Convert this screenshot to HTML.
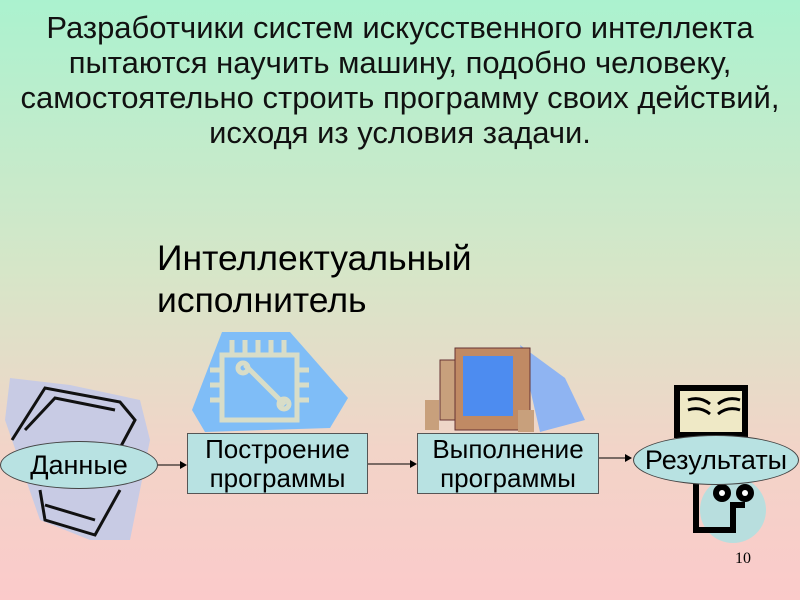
<!DOCTYPE html>
<html><head><meta charset="utf-8"><style>
body{margin:0;width:800px;height:600px;overflow:hidden;background:linear-gradient(#abf2cf 0%,#d6e6c8 45%,#f2d4c8 75%,#fbcaca 100%);font-family:"Liberation Sans",sans-serif;position:relative}
.t{position:absolute;left:0;width:800px;text-align:center;font-size:31px;line-height:35px;top:10px;color:#111;white-space:nowrap}
.h{position:absolute;left:157px;top:237px;font-size:35.5px;line-height:42px;color:#000}
.box{position:absolute;top:433px;height:61px;background:#b8e2e2;border:1px solid #555;font-size:26px;text-align:center;line-height:29px;box-sizing:border-box;padding-top:1px;white-space:nowrap}
.el{position:absolute;background:#b8e2e2;border:1px solid #444;border-radius:50%;font-size:27px;text-align:center;box-sizing:border-box;white-space:nowrap}
</style></head><body>
<div class="t">Разработчики систем искусственного интеллекта<br>пытаются научить машину, подобно человеку,<br>самостоятельно строить программу своих действий,<br>исходя из условия задачи.</div>
<div class="h">Интеллектуальный<br>исполнитель</div>
<svg width="800" height="600" style="position:absolute;left:0;top:0">
<path d="M222,332 L290,332 L348,398 L330,428 L205,432 L192,410 Z" fill="#7fbdf7"/>
<g stroke="#d8ddc8" stroke-width="5" fill="none">
<rect x="222" y="355" width="75" height="65"/>
<path d="M232,340v15M245,340v15M258,340v15M271,340v15M284,340v15M210,370h12M210,385h12M210,400h12M297,370h12M297,385h12M297,400h12M245,365l40,40"/>
<circle cx="243" cy="368" r="5"/><circle cx="284" cy="404" r="5"/>
</g>
<path d="M10,378 L70,385 L140,400 L150,440 L130,540 L90,540 L40,520 L5,420 Z" fill="#c8cbe4"/>
<g stroke="#111" stroke-width="3" fill="none">
<path d="M12,440 L45,388 L120,402 L135,420 L120,448"/><path d="M25,430 L55,398 L115,410"/>
<path d="M40,490 L45,520 L95,535 L120,490"/><path d="M45,505 L95,520"/>
</g>
<path d="M520,345 L565,378 L585,420 L540,432 Z" fill="#8fb4f2"/>
<rect x="440" y="360" width="20" height="60" fill="#c8a07c" stroke="#633" />
<rect x="455" y="348" width="75" height="82" fill="#c08a64" stroke="#633"/>
<rect x="463" y="356" width="50" height="60" fill="#4d8cf0"/>
<rect x="425" y="400" width="14" height="30" fill="#c8a07c"/>
<rect x="518" y="410" width="16" height="22" fill="#c8a07c"/>
<circle cx="733" cy="510" r="33" fill="#b8dede"/>
<path d="M677,388 L745,388 L745,435 L677,435 Z" fill="#efe9c6" stroke="#000" stroke-width="6"/>
<path d="M688,400 q12,-4 22,4 M688,410 q12,-4 22,4 M718,404 q10,-8 22,-4 M718,414 q10,-8 22,-4" stroke="#000" stroke-width="3" fill="none"/>
<path d="M696,484 L696,530 L733,530 L733,505 L745,505" stroke="#000" stroke-width="6" fill="none"/>
<circle cx="722" cy="493" r="9" fill="#000"/><circle cx="745" cy="493" r="9" fill="#000"/>
<circle cx="722" cy="493" r="3" fill="#fff"/><circle cx="745" cy="493" r="3" fill="#fff"/>
<g stroke="#000" stroke-width="1"><path d="M158,465H181M367,464H411M598,458H626"/></g>
<path d="M187,465l-7,-4v8z M417,464l-7,-4v8z M632,458l-7,-4v8z" fill="#000"/>
</svg>
<div class="el" style="left:0;top:441px;width:158px;height:48px;line-height:46px;padding-left:0">Данные</div>
<div class="box" style="left:187px;width:181px">Построение<br>программы</div>
<div class="box" style="left:417px;width:182px">Выполнение<br>программы</div>
<div class="el" style="left:633px;top:435px;width:166px;height:50px;line-height:48px">Результаты</div>
<div style="position:absolute;left:735px;top:550px;font-family:'Liberation Serif',serif;font-size:16px">10</div>
</body></html>
